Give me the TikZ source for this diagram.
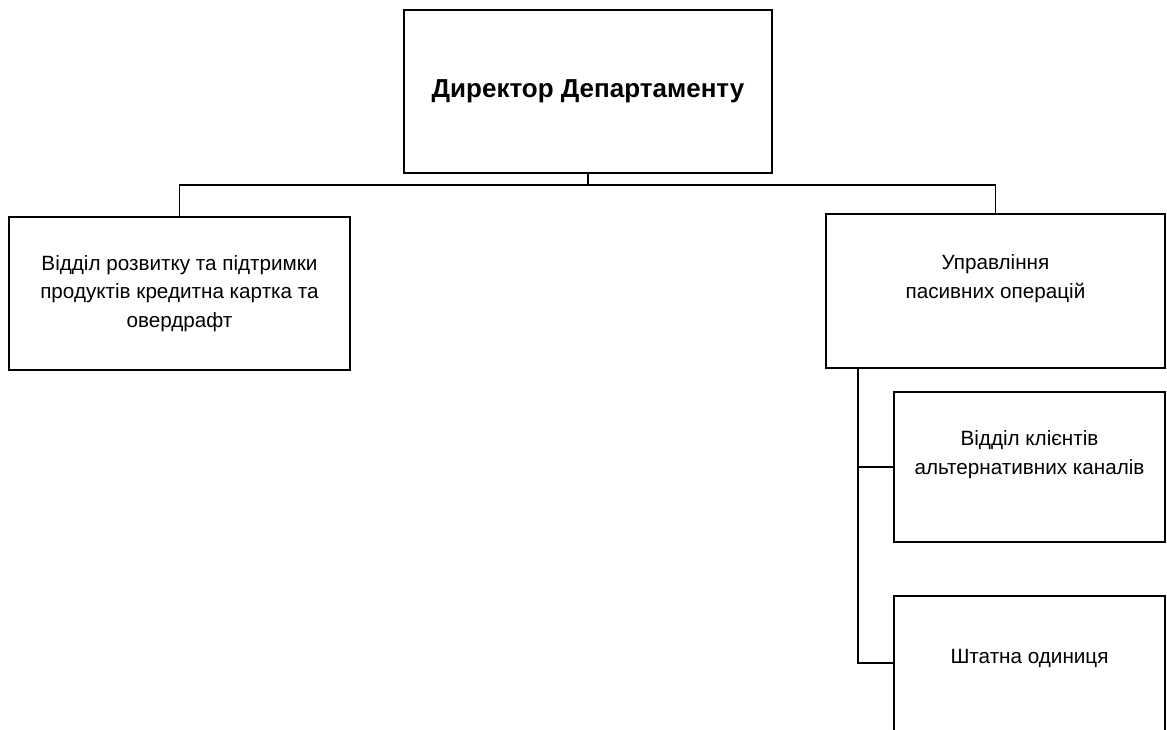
\documentclass[tikz,border=0pt]{standalone}
\usepackage{fontspec}
\setmainfont{Liberation Sans}
\usetikzlibrary{positioning}

\begin{document}
\begin{tikzpicture}[x=0.75pt, y=-0.75pt,
		unit/.style={draw, line width=0.8pt, align=center, inner sep=0pt,
			font=\fontsize{15.5}{21.5}\selectfont},
		link/.style={line width=0.8pt}]
		% Page
		\clip (0,0) rectangle (1167,729);
		\fill[white] (0,0) rectangle (1167,729);
		
		% Boxes
		\node[unit, minimum width=276pt, minimum height=122.25pt,
			font=\fontsize{19.5}{23}\selectfont\bfseries] (dir) at (588,91.5) {Директор Департаменту};
		\node[unit, minimum width=255.75pt, minimum height=114.75pt] (otdil) at (179.5,293.5)
			{Відділ розвитку та підтримки\\продуктів кредитна картка та\\овердрафт};
		\node[unit, minimum width=254.25pt, minimum height=115.5pt] (upr) at (995.5,291)
			{Управління\\пасивних операцій\\~};
		\node[unit, minimum width=203.25pt, minimum height=112.5pt] (kanal) at (1029.5,467)
			{Відділ клієнтів\\альтернативних каналів\\~};
		\node[unit, minimum width=203.25pt, minimum height=112.5pt] (shtat) at (1029.5,671)
			{Штатна одиниця\\~};
		
		% Connections
		\coordinate (bus) at (588,185);
		\coordinate (trunk) at (858,368);
		\draw[link] (dir.south) -- (bus);
		\draw[link] (otdil.north) |- (bus) -| (upr.north);
		\draw[link] (trunk) |- (kanal.west);
		\draw[link] (trunk) |- ([yshift=6pt]shtat.west);
	\end{tikzpicture}
\end{document}
